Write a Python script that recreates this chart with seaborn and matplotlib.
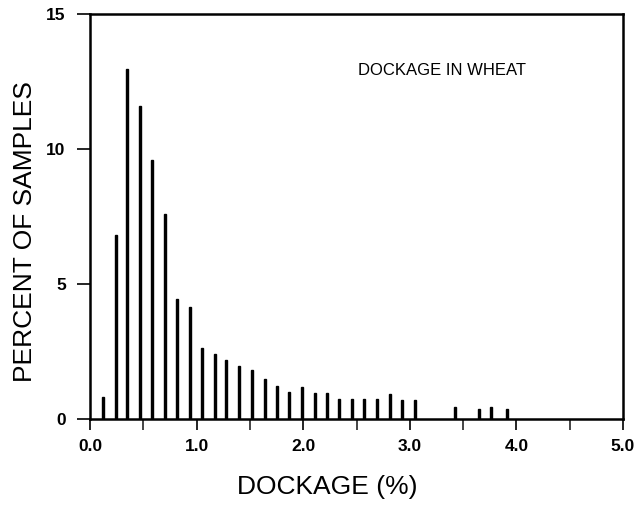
import numpy as np
import pandas as pd
import seaborn as sns
import matplotlib
matplotlib.use("Agg")
import matplotlib.pyplot as plt
from matplotlib.ticker import MultipleLocator

sns.set_theme(style="ticks")
plt.rcParams['font.family'] = ['Liberation Sans', 'DejaVu Sans']

dockage = [0.12, 0.24, 0.35, 0.47, 0.58, 0.70, 0.82, 0.94, 1.05, 1.17,
           1.28, 1.40, 1.52, 1.64, 1.75, 1.87, 1.99, 2.11, 2.22, 2.34,
           2.46, 2.57, 2.69, 2.81, 2.93, 3.05, 3.42, 3.65, 3.76, 3.91]
percent = [0.83, 6.83, 12.95, 11.6, 9.59, 7.58, 4.43, 4.14, 2.62, 2.41,
           2.19, 1.98, 1.81, 1.49, 1.22, 1.01, 1.17, 0.96, 0.97, 0.75,
           0.75, 0.75, 0.75, 0.91, 0.70, 0.70, 0.46, 0.36, 0.44, 0.37]
x_ticks = [0.0, 1.0, 2.0, 3.0, 4.0, 5.0]
x_ticklabels = ["0.0", "1.0", "2.0", "3.0", "4.0", "5.0"]
y_ticks = [0, 5, 10, 15]

df = pd.DataFrame({"dockage": dockage, "percent": percent})

fig = plt.figure(figsize=(6.37, 5.05), dpi=100)
ax = fig.add_axes([90/637, 86/505, 533/637, 405/505])

min_gap = np.min(np.diff(np.sort(df["dockage"].unique())))
sns.barplot(data=df, x="dockage", y="percent", native_scale=True,
            width=0.018/min_gap, color="black", edgecolor="black",
            linewidth=1.0, ax=ax, saturation=1)

ax.set_xlim(0, 5.0)
ax.set_ylim(0, 15)
ax.set_xticks(x_ticks)
ax.set_xticklabels(x_ticklabels)
ax.xaxis.set_minor_locator(MultipleLocator(0.5))
ax.set_yticks(y_ticks)

for s in ax.spines.values():
    s.set_visible(True)
    s.set_linewidth(1.8)
    s.set_color("black")

ax.tick_params(axis="x", which="major", direction="out", length=8, width=1.2,
               labelsize=12.5, colors="black", pad=6.5)
ax.tick_params(axis="x", which="minor", direction="out", length=8, width=1.2)
ax.tick_params(axis="y", which="major", direction="out", length=9.5, width=1.2,
               labelsize=12.5, colors="black", pad=8)
for lab in ax.get_xticklabels() + ax.get_yticklabels():
    lab.set_fontweight("bold")

ax.set_xlabel("DOCKAGE (%)", fontsize=19, color="black", va="center")
ax.xaxis.set_label_coords(0.445, -0.168)
ax.set_ylabel("PERCENT OF SAMPLES", fontsize=19, color="black", va="center")
ax.yaxis.set_label_coords(-0.122, 0.462)
ax.text(0.502, 0.86, "DOCKAGE IN WHEAT", transform=ax.transAxes,
        fontsize=12, fontweight="normal", color="black", ha="left", va="center")

fig.savefig("out.png", dpi=100)
